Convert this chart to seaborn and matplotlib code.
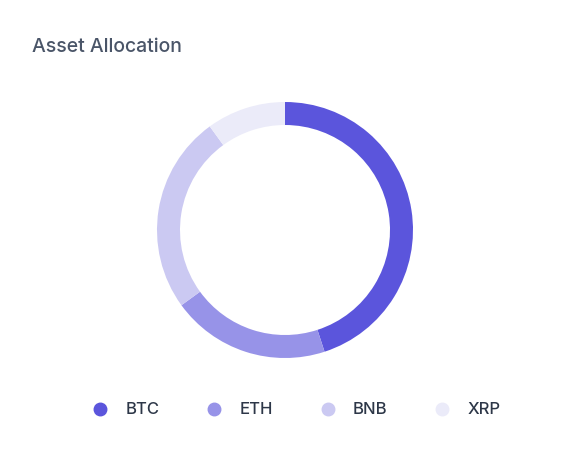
import matplotlib
matplotlib.use("Agg")
import matplotlib.pyplot as plt
import seaborn as sns
from matplotlib.lines import Line2D

sns.set_theme(style="white")
plt.rcParams['font.family'] = ['Inter', 'DejaVu Sans']

labels = ["BTC", "ETH", "BNB", "XRP"]
values = [45, 20, 25, 10]
colors = ["#5B55DC", "#9793E8", "#CBC9F2", "#EBEBF9"]

fig = plt.figure(figsize=(5.69, 4.55), dpi=100)
fig.patch.set_facecolor("white")
ax = fig.add_axes([(285 - 150) / 569, 1 - (230 + 150) / 455, 300 / 569, 300 / 455])
ax.pie(values, colors=colors, startangle=90, counterclock=False, radius=128 / 150,
       wedgeprops=dict(width=23 / 150, edgecolor="white", linewidth=0))
ax.set_xlim(-1, 1); ax.set_ylim(-1, 1)
ax.set_aspect("equal")
ax.axis("off")

fig.text(32 / 569, 1 - 47 / 455, "Asset Allocation", fontsize=14, color="#4A5568",
         va="center", fontweight="medium")

handles = [Line2D([0], [0], marker="o", linestyle="", markersize=9, markerfacecolor=c,
                  markeredgecolor=c) for c in colors]
fig.legend(handles, labels, loc="center", bbox_to_anchor=(292 / 569, 1 - 410 / 455), ncol=4,
           frameon=False, labelcolor="#2D3748", columnspacing=2.3, handletextpad=0.5,
           prop={"size": 12, "weight": "medium"})

fig.savefig("out.png", dpi=100, facecolor="white")
